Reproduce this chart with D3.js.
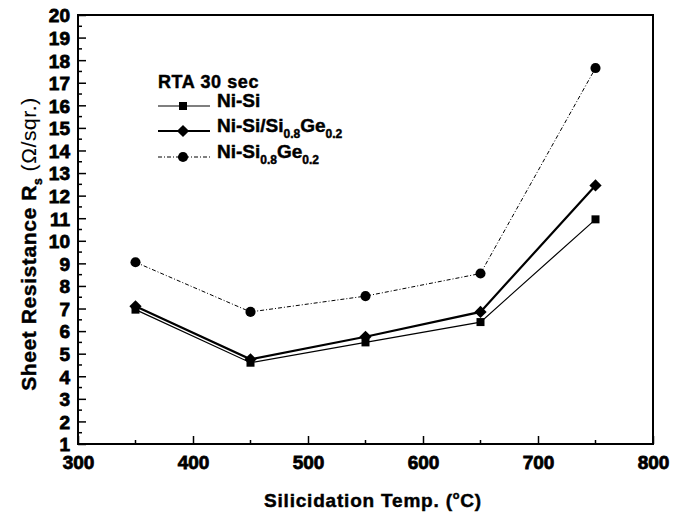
<!DOCTYPE html>
<html>
<head>
<meta charset="utf-8">
<script src="https://cdn.jsdelivr.net/npm/d3@7"></script>
<style>
  body { margin: 0; background: #fff; }
  text { font-family: "Liberation Sans", Arial, sans-serif; font-weight: bold; fill: #000; stroke: #000; stroke-width: 0.45px; }
</style>
</head>
<body>
<div id="chart"></div>
<script>
var temps = [350, 450, 550, 650, 750];
var niSi = [6.95, 4.6, 5.5, 6.4, 10.95];
var niSiSiGe = [7.1, 4.75, 5.75, 6.85, 12.45];
var niSiGe = [9.05, 6.85, 7.55, 8.55, 17.65];
var xTicks = [300, 400, 500, 600, 700, 800];
var yTicks = d3.range(1, 21);

var svgWidth = 679;
var svgHeight = 512;
var margin = { top: 15, right: 26, bottom: 68, left: 78 };
var width = svgWidth - margin.left - margin.right;
var height = svgHeight - margin.top - margin.bottom;

var svg = d3.select("#chart")
  .append("svg")
  .attr("width", svgWidth)
  .attr("height", svgHeight);

var chartGroup = svg.append("g")
  .attr("transform", `translate(${margin.left}, ${margin.top})`);

var xScale = d3.scaleLinear().domain([300, 800]).range([0, width]);
var yScale = d3.scaleLinear().domain([1, 20]).range([height, 0]);

// minor ticks
var xMinor = d3.range(350, 800, 100);
var yMinor = d3.range(1.5, 20, 1);

chartGroup.selectAll(".xminor").data(xMinor).enter().append("line")
  .attr("x1", d => xScale(d)).attr("x2", d => xScale(d))
  .attr("y1", height).attr("y2", height - 4)
  .attr("stroke", "#000").attr("stroke-width", 1.5);

chartGroup.selectAll(".yminor").data(yMinor).enter().append("line")
  .attr("y1", d => yScale(d)).attr("y2", d => yScale(d))
  .attr("x1", 0).attr("x2", 4)
  .attr("stroke", "#000").attr("stroke-width", 1.5);

// axes
var xAxis = d3.axisBottom(xScale).tickValues(xTicks).tickSizeInner(-8).tickSizeOuter(0).tickPadding(12);
var yAxis = d3.axisLeft(yScale).tickValues(yTicks).tickSizeInner(-8).tickSizeOuter(0).tickPadding(8);

var gx = chartGroup.append("g").attr("transform", `translate(0, ${height})`).call(xAxis);
var gy = chartGroup.append("g").call(yAxis);
[gx, gy].forEach(g => {
  g.attr("font-family", null).attr("font-size", null).attr("fill", "#000");
  g.selectAll(".tick text")
    .style("font-family", "'Liberation Sans', Arial, sans-serif")
    .style("font-weight", "700")
    .style("font-size", "19px")
    .style("fill", "#000")
    .style("stroke", "#000")
    .style("stroke-width", "0.8px");
  g.selectAll("line").attr("stroke-width", 1.5);
  g.select(".domain").remove();
});
gy.selectAll("text").attr("dy", "0.36em");

// frame
chartGroup.append("rect")
  .attr("width", width).attr("height", height)
  .attr("fill", "none").attr("stroke", "#000").attr("stroke-width", 2);

// series
var series = [
  { name: "Ni-Si", values: niSi, width: 1.2, dash: null, symbol: d3.symbolSquare, size: 64, rot: 0 },
  { name: "Ni-Si/Si0.8Ge0.2", values: niSiSiGe, width: 2.2, dash: null, symbol: d3.symbolSquare, size: 75, rot: 45 },
  { name: "Ni-Si0.8Ge0.2", values: niSiGe, width: 1, dash: "4,2,1,2", symbol: d3.symbolCircle, size: 80, rot: 0 }
];

var line = d3.line().x((d, i) => xScale(temps[i])).y(d => yScale(d));

series.forEach(s => {
  chartGroup.append("path")
    .datum(s.values)
    .attr("d", line)
    .attr("fill", "none")
    .attr("stroke", "#000")
    .attr("stroke-width", s.width)
    .attr("stroke-dasharray", s.dash);

  chartGroup.selectAll(null).data(s.values).enter().append("path")
    .attr("d", d3.symbol().type(s.symbol).size(s.size))
    .attr("transform", (d, i) => `translate(${xScale(temps[i])}, ${yScale(d)}) rotate(${s.rot})`)
    .attr("fill", "#000");
});

// legend
var legend = svg.append("g");
legend.append("text").attr("x", 158).attr("y", 88).style("font-size", "18px").style("letter-spacing", "0.6px").text("RTA 30 sec");

var legendY = [106, 131, 157];
var legendLabels = [
  [["Ni-Si", 0]],
  [["Ni-Si/Si", 0], ["0.8", 1], ["Ge", 0], ["0.2", 1]],
  [["Ni-Si", 0], ["0.8", 1], ["Ge", 0], ["0.2", 1]]
];
series.forEach((s, i) => {
  var y = legendY[i];
  legend.append("line")
    .attr("x1", 158).attr("x2", 210).attr("y1", y).attr("y2", y)
    .attr("stroke", "#000").attr("stroke-width", s.width)
    .attr("stroke-dasharray", s.dash);
  legend.append("path")
    .attr("d", d3.symbol().type(s.symbol).size(s.size)())
    .attr("transform", `translate(183, ${y}) rotate(${s.rot})`)
    .attr("fill", "#000");
  var t = legend.append("text").attr("x", 217).attr("y", y + 7).style("font-size", "19px");
  legendLabels[i].forEach(p => {
    t.append("tspan")
      .attr("dy", p[1] ? 6 : (t.selectAll("tspan").size() ? -6 : 0))
      .style("font-size", p[1] ? "12px" : "19px")
      .text(p[0]);
  });
});

// axis titles
var yLabel = svg.append("text")
  .attr("transform", "translate(36, 244) rotate(-90)")
  .attr("text-anchor", "middle")
  .style("font-size", "21px")
  .style("letter-spacing", "0.6px");
yLabel.append("tspan").text("Sheet Resistance R");
yLabel.append("tspan").attr("dy", 6).style("font-size", "12px").text("s");
yLabel.append("tspan").attr("dy", -6).style("font-weight", "normal").style("stroke-width", "0.1px").text(" (Ω/sqr.)");

var xLabel = svg.append("text")
  .attr("x", 373).attr("y", 507)
  .attr("text-anchor", "middle")
  .style("font-size", "19px")
  .style("letter-spacing", "0.8px");
xLabel.append("tspan").text("Silicidation Temp. (");
xLabel.append("tspan").attr("dy", -8).style("font-size", "11px").text("o");
xLabel.append("tspan").attr("dy", 8).text("C)");
</script>
</body>
</html>
